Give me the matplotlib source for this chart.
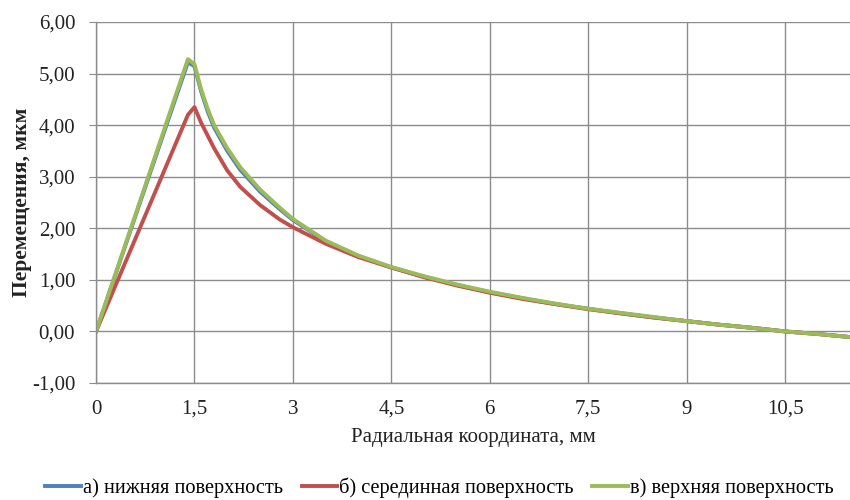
import matplotlib
matplotlib.use("Agg")
import matplotlib.pyplot as plt
from matplotlib.ticker import FuncFormatter, MultipleLocator

plt.rcParams['font.family'] = ['Liberation Serif', 'DejaVu Serif']

# Radial coordinate, mm
radius = [0, 1.4, 1.5, 1.6, 1.7, 1.8, 2.0, 2.2, 2.5, 2.8, 3.0, 3.5, 4.0, 4.5,
          5.0, 5.5, 6.0, 6.5, 7.0, 7.5, 8.0, 8.5, 9.0, 9.5, 10.0, 10.5, 11.0, 11.5]

# Displacements, um
lower_surface = [0, 5.22, 5.14, 4.66, 4.27, 3.95, 3.50, 3.13, 2.71, 2.37, 2.16, 1.75,
                 1.46, 1.24, 1.06, 0.90, 0.76, 0.64, 0.53, 0.44, 0.35, 0.27, 0.20,
                 0.13, 0.07, 0.00, -0.05, -0.11]
middle_surface = [0, 4.20, 4.35, 4.05, 3.80, 3.55, 3.12, 2.80, 2.45, 2.17, 2.02, 1.70,
                  1.44, 1.24, 1.05, 0.89, 0.75, 0.63, 0.53, 0.43, 0.35, 0.27, 0.20,
                  0.13, 0.07, 0.00, -0.05, -0.11]
upper_surface = [0, 5.28, 5.18, 4.70, 4.32, 4.00, 3.55, 3.18, 2.75, 2.40, 2.18, 1.76,
                 1.47, 1.25, 1.07, 0.91, 0.77, 0.65, 0.54, 0.44, 0.36, 0.28, 0.20,
                 0.13, 0.07, 0.00, -0.05, -0.11]

labels = ["а) нижняя поверхность", "б) серединная поверхность", "в) верхняя поверхность"]
colors = ["#4F81BD", "#C0504D", "#9BBB59"]

fig = plt.figure(figsize=(8.5, 5), dpi=100)
ax = fig.add_axes([0.113, 0.234, 0.887, 0.722])

for ys, lab, col in zip([lower_surface, middle_surface, upper_surface], labels, colors):
    ax.plot(radius, ys, color=col, lw=2.8, label=lab, solid_joinstyle='round')

ax.set_xlim(0, 11.49)
ax.set_ylim(-1, 6)
ax.xaxis.set_major_locator(MultipleLocator(1.5))
ax.yaxis.set_major_locator(MultipleLocator(1.0))

ax.xaxis.set_major_formatter(FuncFormatter(lambda v, p: f"{v:g}".replace('.', ',')))
ax.yaxis.set_major_formatter(FuncFormatter(lambda v, p: f"{v:.2f}".replace('.', ',')))

grid_col = "#8C8C8C"
ax.grid(True, color=grid_col, lw=1.0)
ax.set_axisbelow(True)
for side in ['top', 'right']:
    ax.spines[side].set_visible(False)
for side in ['left', 'bottom']:
    ax.spines[side].set_color(grid_col)
    ax.spines[side].set_linewidth(1.0)

text_col = '#222222'
ax.tick_params(axis='y', length=5, color=grid_col, labelcolor=text_col, labelsize=15, pad=10)
ax.tick_params(axis='x', length=0, labelcolor=text_col, labelsize=15, pad=12)

ax.set_xlabel("Радиальная координата, мм", fontsize=15, color=text_col, labelpad=7)
ax.set_ylabel("Перемещения, мкм", fontsize=15.5, fontweight='bold', color=text_col, labelpad=0)

fig.legend(loc='center', bbox_to_anchor=(0.517, 0.025), ncol=3, frameon=False,
           fontsize=14.7, handlelength=1.75, handletextpad=0.1, columnspacing=0.9)

fig.savefig("out.png", dpi=100)
